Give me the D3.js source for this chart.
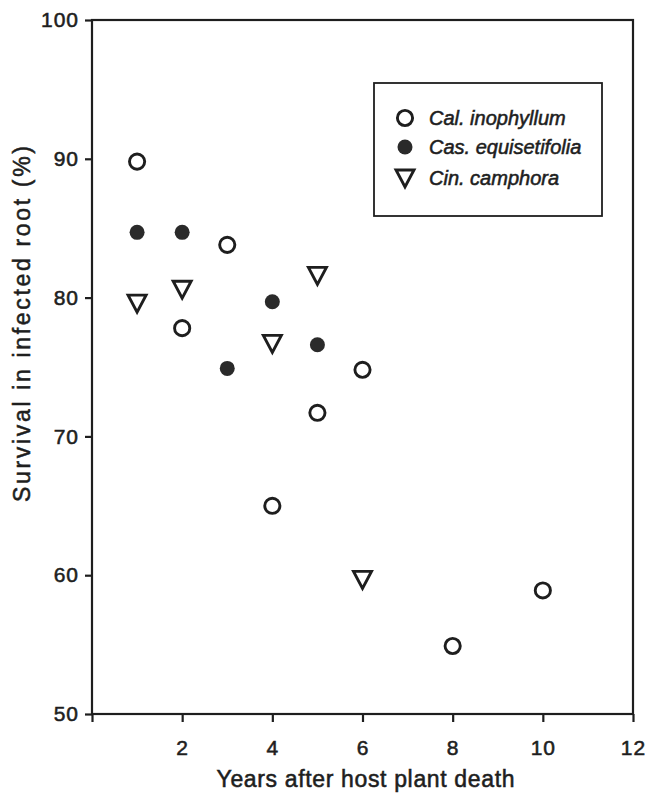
<!DOCTYPE html>
<html>
<head>
<meta charset="utf-8">
<script src="https://cdn.jsdelivr.net/npm/d3@7"></script>
<style>
  body { margin: 0; background: #fff; }
  text { font-family: "Liberation Sans", Arial, sans-serif; fill: #1e1e1e; stroke: #1e1e1e; stroke-width: 0.55px; }
</style>
</head>
<body>
<svg id="chart" width="645" height="809"></svg>
<script>
// values
const calYears = [1, 2, 3, 4, 5, 6, 8, 10];
const calSurvival = [89.8, 77.8, 83.8, 65.0, 71.7, 74.8, 54.9, 58.9];
const casYears = [1, 2, 3, 4, 5];
const casSurvival = [84.7, 84.7, 74.9, 79.7, 76.6];
const cinYears = [1, 2, 4, 5, 6];
const cinSurvival = [79.6, 80.6, 76.7, 81.6, 59.7];
const xTicks = [0, 2, 4, 6, 8, 10, 12];
const yTicks = [50, 60, 70, 80, 90, 100];
const seriesNames = ["Cal. inophyllum", "Cas. equisetifolia", "Cin. camphora"];

const INK = "#1e1e1e";
const svg = d3.select("#chart");
const margin = { top: 20, right: 12, bottom: 95, left: 92 };
const W = 645, H = 809;

const x = d3.scaleLinear().domain([0, 12]).range([margin.left, W - margin.right]);
const y = d3.scaleLinear().domain([50, 100]).range([H - margin.bottom, margin.top]);

// frame
svg.append("rect")
  .attr("x", x(0)).attr("y", y(100))
  .attr("width", x(12) - x(0)).attr("height", y(50) - y(100))
  .attr("fill", "none").attr("stroke", INK).attr("stroke-width", 2.2);

const xAxis = svg.append("g")
  .attr("transform", `translate(0,${y(50)})`)
  .call(d3.axisBottom(x).tickValues(xTicks).tickSize(8).tickPadding(18)
    .tickFormat((d) => (d === 0 ? "" : d)));
const yAxis = svg.append("g")
  .attr("transform", `translate(${x(0)},0)`)
  .call(d3.axisLeft(y).tickValues(yTicks).tickSize(7).tickPadding(6));

[xAxis, yAxis].forEach((g) => {
  g.select(".domain").remove();
  g.selectAll(".tick line").attr("stroke", INK).attr("stroke-width", 2.2);
  g.selectAll(".tick text")
    .style("font-family", "'Liberation Sans', Arial, sans-serif")
    .style("font-size", "21px").style("letter-spacing", "1px")
    .attr("fill", INK).attr("stroke", INK).attr("stroke-width", 0.6);
});

// axis titles
svg.append("text")
  .attr("x", (x(0) + x(12)) / 2 + 3).attr("y", 787)
  .attr("text-anchor", "middle")
  .attr("textLength", 298).attr("lengthAdjust", "spacing")
  .style("font-size", "23px")
  .text("Years after host plant death");

svg.append("text")
  .attr("transform", `translate(30,${324}) rotate(-90)`)
  .attr("text-anchor", "middle")
  .attr("textLength", 356).attr("lengthAdjust", "spacing")
  .style("font-size", "23px")
  .text("Survival in infected root (%)");

// marker helpers
const tri = "M-9,-8 L9,-8 L0,9 Z";
function openCircle(g, cx, cy) {
  g.append("circle").attr("cx", cx).attr("cy", cy).attr("r", 7.6)
    .attr("fill", "none").attr("stroke", INK).attr("stroke-width", 2.9);
}
function dot(g, cx, cy) {
  g.append("circle").attr("cx", cx).attr("cy", cy).attr("r", 7.5)
    .attr("fill", "#2a2a2a");
}
function triangle(g, cx, cy) {
  g.append("path").attr("d", tri).attr("transform", `translate(${cx},${cy})`)
    .attr("fill", "none").attr("stroke", INK).attr("stroke-width", 2.9)
    .attr("stroke-linejoin", "miter");
}

const pts = svg.append("g");
calYears.forEach((d, i) => openCircle(pts, x(d), y(calSurvival[i])));
casYears.forEach((d, i) => dot(pts, x(d), y(casSurvival[i])));
cinYears.forEach((d, i) => triangle(pts, x(d), y(cinSurvival[i])));

// legend
const lg = svg.append("g").attr("transform", "translate(374,83)");
lg.append("rect").attr("width", 228).attr("height", 133)
  .attr("fill", "#fff").attr("stroke", INK).attr("stroke-width", 1.8);
const rowY = [35, 64, 95];
const drawers = [openCircle, dot, triangle];
seriesNames.forEach((name, i) => {
  drawers[i](lg, 31, rowY[i]);
  lg.append("text").attr("x", 55).attr("y", rowY[i]).attr("dy", "0.35em")
    .style("font-size", "20px").style("font-style", "italic")
    .text(name);
});
</script>
</body>
</html>
